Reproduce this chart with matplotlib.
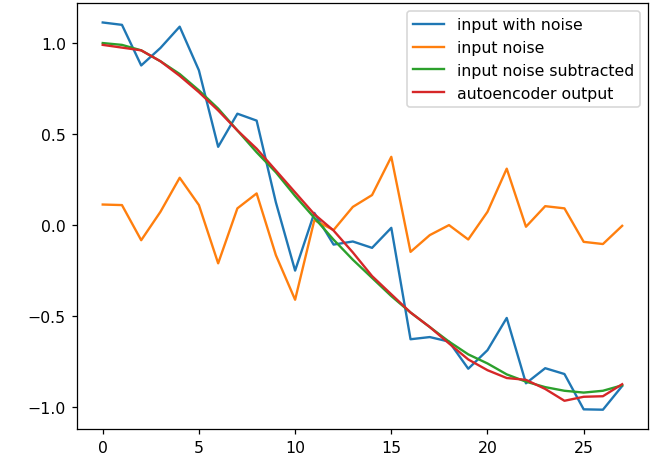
import numpy as np
import matplotlib
matplotlib.use("Agg")
import matplotlib.pyplot as plt

steps = np.arange(28)

input_with_noise = [1.113, 1.100, 0.877, 0.973, 1.090, 0.850, 0.430, 0.612, 0.574, 0.125,
                    -0.250, 0.067, -0.107, -0.090, -0.125, -0.015, -0.627, -0.615, -0.640, -0.789,
                    -0.687, -0.510, -0.869, -0.786, -0.818, -1.012, -1.014, -0.884]
input_noise = [0.113, 0.110, -0.083, 0.073, 0.260, 0.110, -0.210, 0.092, 0.174, -0.165,
               -0.410, 0.027, -0.027, 0.100, 0.165, 0.375, -0.147, -0.055, 0.000, -0.079,
               0.073, 0.310, -0.009, 0.104, 0.092, -0.092, -0.104, -0.004]
noise_subtracted = [1.000, 0.990, 0.960, 0.900, 0.830, 0.740, 0.640, 0.520, 0.400, 0.290,
                    0.160, 0.040, -0.080, -0.190, -0.290, -0.390, -0.480, -0.560, -0.640, -0.710,
                    -0.760, -0.820, -0.860, -0.890, -0.910, -0.920, -0.910, -0.880]
autoencoder_output = [0.990, 0.975, 0.960, 0.900, 0.820, 0.730, 0.630, 0.520, 0.420, 0.300,
                      0.180, 0.060, -0.030, -0.150, -0.280, -0.380, -0.480, -0.560, -0.650, -0.738,
                      -0.797, -0.840, -0.850, -0.900, -0.965, -0.943, -0.940, -0.874]

# the reference looks like a default figure rendered a bit larger than 100 dpi
dpi = 113
fig = plt.figure(figsize=(656 / dpi, 458 / dpi), dpi=dpi)
ax = fig.add_axes([0.117, 0.061, 0.871, 0.930])

ax.plot(steps, input_with_noise, label='input with noise')
ax.plot(steps, input_noise, label='input noise')
ax.plot(steps, noise_subtracted, label='input noise subtracted')
ax.plot(steps, autoencoder_output, label='autoencoder output')
ax.legend(loc='upper right')

fig.savefig('out.png', dpi=dpi)
